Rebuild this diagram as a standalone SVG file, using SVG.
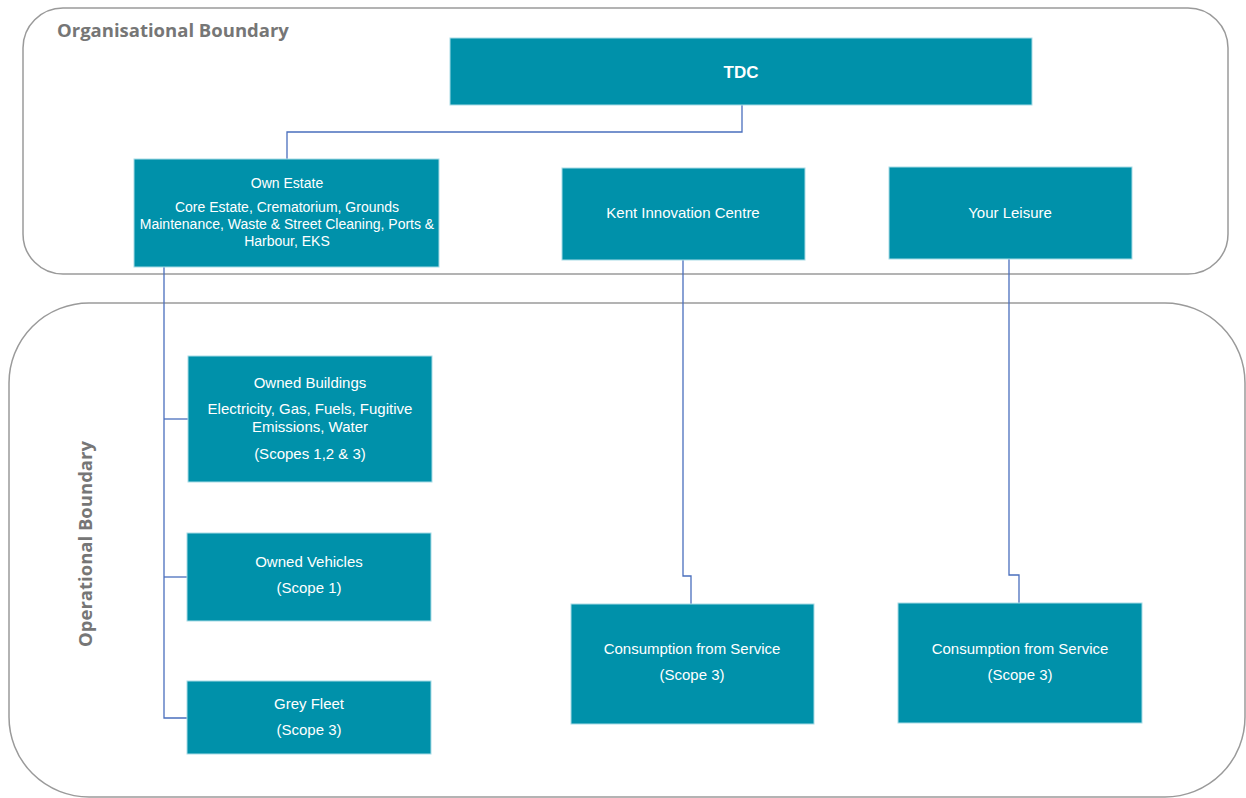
<svg xmlns="http://www.w3.org/2000/svg" width="1246" height="798" viewBox="0 0 1246 798">
<style>
.bnd{fill:none;stroke:#9a9a9a;stroke-width:1.5}
.bl{font-family:"Open Sans","Liberation Sans",sans-serif;font-weight:bold;font-size:18.5px;fill:#767676}
.box{fill:#0091AA;stroke:#a8dbe6;stroke-width:1}
.t{font-family:"Liberation Sans","Open Sans",sans-serif;font-size:15px;fill:#ffffff;text-anchor:middle}
.s{font-size:14px}
.b{font-weight:bold;font-size:17px}
.c{fill:none;stroke:#4a6fbd;stroke-width:1.3}
</style>
<rect x="0" y="0" width="1246" height="798" fill="#ffffff"/>
<g id="org-boundary">
<rect class="bnd" x="23" y="8" width="1205" height="266" rx="40" ry="40"/>
<text class="bl" x="57" y="37">Organisational Boundary</text>
</g>
<g id="op-boundary">
<rect class="bnd" x="9" y="303" width="1236" height="494" rx="80" ry="80"/>
<text class="bl" transform="translate(92,544) rotate(-90)" text-anchor="middle">Operational Boundary</text>
</g>
<g id="connectors">
<path class="c" d="M742,105 V132 H287 V159"/>
<path class="c" d="M164,267 V718 H187"/>
<path class="c" d="M164,419 H188"/>
<path class="c" d="M164,577 H187"/>
<path class="c" d="M683,260 V576 H691 V604"/>
<path class="c" d="M1009,259 V575 H1019 V603"/>
</g>
<g id="tdc">
<rect class="box" x="450" y="38" width="582" height="67"/>
<text class="t b" x="741" y="78">TDC</text>
</g>
<g id="own-estate">
<rect class="box" x="134" y="159" width="305" height="108"/>
<text class="t s" x="287" y="188">Own Estate</text>
<text class="t s" x="287" y="212">Core Estate, Crematorium, Grounds</text>
<text class="t s" x="287" y="229">Maintenance, Waste &amp; Street Cleaning, Ports &amp;</text>
<text class="t s" x="287" y="246">Harbour, EKS</text>
</g>
<g id="kent-innovation-centre">
<rect class="box" x="562" y="168" width="243" height="92"/>
<text class="t" x="683" y="218">Kent Innovation Centre</text>
</g>
<g id="your-leisure">
<rect class="box" x="889" y="167" width="243" height="92"/>
<text class="t" x="1010" y="218">Your Leisure</text>
</g>
<g id="owned-buildings">
<rect class="box" x="188" y="356" width="244" height="126"/>
<text class="t" x="310" y="388">Owned Buildings</text>
<text class="t" x="310" y="414">Electricity, Gas, Fuels, Fugitive</text>
<text class="t" x="310" y="432">Emissions, Water</text>
<text class="t" x="310" y="459">(Scopes 1,2 &amp; 3)</text>
</g>
<g id="owned-vehicles">
<rect class="box" x="187" y="533" width="244" height="88"/>
<text class="t" x="309" y="567">Owned Vehicles</text>
<text class="t" x="309" y="593">(Scope 1)</text>
</g>
<g id="grey-fleet">
<rect class="box" x="187" y="681" width="244" height="73"/>
<text class="t" x="309" y="709">Grey Fleet</text>
<text class="t" x="309" y="735">(Scope 3)</text>
</g>
<g id="consumption-kic">
<rect class="box" x="571" y="604" width="243" height="120"/>
<text class="t" x="692" y="654">Consumption from Service</text>
<text class="t" x="692" y="680">(Scope 3)</text>
</g>
<g id="consumption-yl">
<rect class="box" x="898" y="603" width="244" height="120"/>
<text class="t" x="1020" y="654">Consumption from Service</text>
<text class="t" x="1020" y="680">(Scope 3)</text>
</g>
</svg>
